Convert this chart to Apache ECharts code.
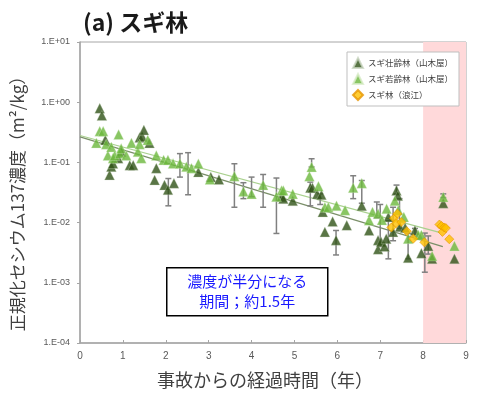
<!DOCTYPE html>
<html>
<head>
<meta charset="utf-8">
<script src="https://cdn.jsdelivr.net/npm/echarts@6/dist/echarts.min.js"></script>
<style>
  html, body, #chart { width: 100%; height: 100%; margin: 0; background: #fff; }
</style>
</head>
<body>
<div id="chart"></div>
<script>
// スギ壮齢林（山木屋） [年, 濃度]
const matureData = [
  [0.46,0.79],[0.51,0.60],[0.59,0.235],[0.69,0.062],[0.73,0.085],[0.77,0.096],[0.89,0.117],
  [0.96,0.15],[1.16,0.09],[1.24,0.09],[1.39,0.26],[1.45,0.27],[1.49,0.345],[1.62,0.21],
  [1.74,0.051],[1.78,0.08],[1.97,0.042],[2.05,0.035],[2.19,0.045],[2.76,0.069],[3.05,0.057],
  [3.24,0.052],[4.70,0.027],[4.74,0.025],[4.96,0.023],[5.37,0.038],[5.42,0.038],[5.53,0.03],
  [5.63,0.029],[5.66,0.015],[5.71,0.007],[5.89,0.0104],[5.97,0.0051],[6.22,0.009],[6.57,0.019],
  [6.74,0.0074],[6.95,0.0051],[6.95,0.0036],[7.02,0.0048],[7.10,0.0040],[7.14,0.0054],
  [7.19,0.0124],[7.30,0.007],[7.38,0.034],[7.41,0.028],[7.46,0.0085],[7.58,0.0082],
  [7.65,0.0026],[7.81,0.0074],[7.96,0.0031],[8.12,0.0041],[8.21,0.0025],[8.47,0.021],[8.73,0.0025]
];
// スギ若齢林（山木屋）
const youngData = [
  [0.38,0.21],[0.46,0.33],[0.54,0.33],[0.61,0.20],[0.65,0.13],[0.73,0.18],[0.77,0.117],
  [0.81,0.13],[0.90,0.29],[0.93,0.14],[0.96,0.17],[1.08,0.13],[1.20,0.21],[1.35,0.15],
  [1.39,0.20],[1.43,0.117],[1.58,0.235],[1.78,0.13],[1.95,0.11],[2.05,0.11],[2.17,0.096],
  [2.33,0.096],[2.48,0.085],[2.60,0.08],[2.76,0.095],[3.03,0.052],[3.60,0.059],[3.81,0.033],
  [4.00,0.03],[4.27,0.042],[4.58,0.027],[4.70,0.034],[4.74,0.034],[4.96,0.03],[5.35,0.059],
  [5.40,0.084],[5.56,0.04],[5.71,0.018],[5.79,0.018],[5.98,0.019],[6.18,0.016],[6.37,0.038],
  [6.57,0.045],[6.74,0.0109],[6.82,0.015],[6.95,0.014],[7.04,0.011],[7.15,0.017],[7.34,0.023],
  [7.42,0.016],[7.55,0.0124],[7.65,0.0054],[7.89,0.0062],[7.96,0.0062],[8.21,0.0028],
  [8.47,0.0266],[8.73,0.0041]
];
// スギ林（浪江）
const namieData = [
  [7.26,0.0083],[7.32,0.0118],[7.37,0.0098],[7.40,0.014],[7.49,0.0102],[7.62,0.0072],
  [7.77,0.0054],[8.03,0.0047],[8.38,0.0093],[8.43,0.0088],[8.45,0.0070],[8.49,0.0083],
  [8.53,0.0081],[8.61,0.0053]
];
// 誤差範囲 [年, 下限, 上限]
const errorBars = [
  [2.06,0.019,0.054],[2.33,0.057,0.14],[2.52,0.029,0.145],[3.60,0.018,0.095],[3.81,0.025,0.046],
  [4.00,0.027,0.057],[4.27,0.018,0.063],[4.58,0.0066,0.055],[5.37,0.019,0.047],[5.40,0.084,0.115],
  [5.60,0.02,0.03],[5.97,0.0029,0.0074],[6.37,0.025,0.06],[6.57,0.021,0.05],[6.92,0.012,0.022],
  [7.00,0.004,0.02],[7.19,0.0025,0.0108],[7.30,0.005,0.018],[7.38,0.030,0.042],[7.45,0.008,0.025],
  [7.65,0.0025,0.0066],[7.81,0.006,0.008],[8.04,0.0015,0.0067],[8.12,0.003,0.006],[8.47,0.026,0.03]
];
// 近似線
const trendYoung = [[0,0.28],[8.4,0.0068]];
const trendMature = [[0,0.265],[8.46,0.004]];
const seriesNames = ['スギ壮齢林（山木屋）','スギ若齢林（山木屋）','スギ林（浪江）'];

const CJK = '"Noto Sans CJK JP", "Noto Sans", sans-serif';
const chart = echarts.init(document.getElementById('chart'));

function expLabel(v) {
  const e = Math.round(Math.log10(v));
  return '1.E' + (e >= 0 ? '+' : '-') + String(Math.abs(e)).padStart(2, '0');
}

const option = {
  animation: false,
  backgroundColor: '#fff',
  title: {
    text: '(a) スギ林',
    left: 78, top: 6,
    textStyle: { fontFamily: CJK, fontSize: 23, fontWeight: 'bold', color: '#1a1a1a' }
  },
  grid: { left: 80, right: 14, top: 42, bottom: 58, show: true, borderColor: '#a6a6a6', borderWidth: 1 },
  legend: {
    data: seriesNames,
    orient: 'vertical',
    left: 347, top: 52,
    padding: [5, 6, 5, 5],
    itemGap: 4,
    itemWidth: 10, itemHeight: 10,
    backgroundColor: '#fff',
    borderColor: '#bfbfbf', borderWidth: 1,
    textStyle: { fontFamily: CJK, fontSize: 8.5, color: '#404040' }
  },
  xAxis: {
    type: 'value', min: 0, max: 9, interval: 1,
    name: '事故からの経過時間（年）',
    nameLocation: 'middle', nameGap: 28,
    nameTextStyle: { fontFamily: CJK, fontSize: 18, color: '#404040', padding: [0, 16, 0, 0] },
    axisLine: { lineStyle: { color: '#a6a6a6', width: 1.5 } },
    axisTick: { inside: true, length: 3, lineStyle: { color: '#a6a6a6' } },
    axisLabel: { fontSize: 10, color: '#595959', margin: 8 },
    splitLine: { show: false }
  },
  yAxis: {
    type: 'log', logBase: 10, min: 0.0001, max: 10, interval: 1,
    name: '正規化セシウム137濃度（m²/kg）',
    nameLocation: 'middle', nameGap: 54,
    nameTextStyle: { fontFamily: CJK, fontSize: 17, color: '#404040', padding: [0, 14, 0, 0] },
    axisLine: { show: true, lineStyle: { color: '#a6a6a6', width: 1.5 } },
    axisTick: { show: true, length: 3, lineStyle: { color: '#a6a6a6' } },
    axisLabel: { fontSize: 9, color: '#595959', formatter: expLabel, margin: 10 },
    splitLine: { show: false }
  },
  graphic: [{
    type: 'group', left: 166, top: 267,
    children: [
      { type: 'rect', shape: { x: 0, y: 0, width: 161, height: 48 },
        style: { fill: '#fff', stroke: '#000', lineWidth: 1.5 } },
      { type: 'text', x: 80.5, y: 14, style: { text: '濃度が半分になる', fill: '#1a1aff',
        font: '15px "Noto Sans CJK JP"', textAlign: 'center', textVerticalAlign: 'middle' } },
      { type: 'text', x: 80.5, y: 34, style: { text: '期間；約1.5年', fill: '#1a1aff',
        font: '15px "Noto Sans CJK JP"', textAlign: 'center', textVerticalAlign: 'middle' } }
    ]
  }],
  series: [
    {
      name: 'band', type: 'line', data: [], z: 0,
      markArea: { silent: true, itemStyle: { color: '#ffd9da' }, data: [[{ xAxis: 8 }, { xAxis: 9 }]] }
    },
    {
      name: 'trendYoung', type: 'line', data: trendYoung, symbol: 'none', z: 1,
      lineStyle: { color: '#a9d18e', width: 1.2 }
    },
    {
      name: 'trendMature', type: 'line', data: trendMature, symbol: 'none', z: 1,
      lineStyle: { color: '#7a8f68', width: 1.2 }
    },
    {
      name: 'err', type: 'custom', data: errorBars, z: 2,
      encode: { x: 0, y: [1, 2] },
      renderItem: function (params, api) {
        const x = api.value(0);
        const top = api.coord([x, api.value(2)]);
        const bot = api.coord([x, api.value(1)]);
        const st = { stroke: '#808080', lineWidth: 1.5 };
        return { type: 'group', children: [
          { type: 'line', shape: { x1: top[0], y1: top[1], x2: bot[0], y2: bot[1] }, style: st },
          { type: 'line', shape: { x1: top[0] - 3, y1: top[1], x2: top[0] + 3, y2: top[1] }, style: st },
          { type: 'line', shape: { x1: bot[0] - 3, y1: bot[1], x2: bot[0] + 3, y2: bot[1] }, style: st }
        ] };
      }
    },
    {
      name: seriesNames[0], type: 'scatter', data: matureData, symbol: 'triangle', symbolSize: 10, z: 3,
      itemStyle: { color: '#2f5217', borderColor: '#c9d6c0', borderWidth: 0.4 }
    },
    {
      name: seriesNames[1], type: 'scatter', data: youngData, symbol: 'triangle', symbolSize: 10, z: 4,
      itemStyle: { color: '#6cb83c', borderColor: '#d9ecc9', borderWidth: 0.4 }
    },
    {
      name: seriesNames[2], type: 'scatter', data: namieData, symbol: 'diamond', symbolSize: 9, z: 5,
      itemStyle: { color: '#ffc000', borderColor: '#e69500', borderWidth: 0.8 }
    }
  ]
};
chart.setOption(option);
</script>
</body>
</html>
